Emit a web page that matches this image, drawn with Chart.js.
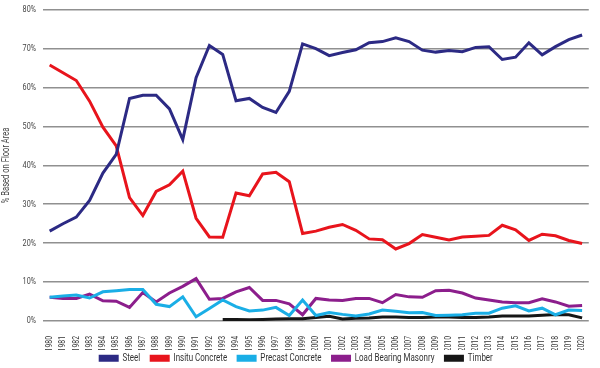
<!DOCTYPE html>
<html>
<head>
<meta charset="utf-8">
<script src="https://cdn.jsdelivr.net/npm/chart.js@4"></script>
<style>
  html, body { margin: 0; padding: 0; background: #fff; }
  #wrap { width: 600px; height: 368px; }
</style>
</head>
<body>
<div id="wrap"><canvas id="floorAreaChart"></canvas></div>
<script>
const years = [];
for (let y = 1980; y <= 2020; y++) years.push(String(y));

const steel = [23.1, 25, 26.7, 31, 38, 42.8, 57.2, 58, 58, 54.5, 46.6, 62.5, 70.8, 68.5, 56.6, 57.2, 54.9, 53.6, 59, 71.2,
  70, 68.2, 69, 69.7, 71.5, 71.8, 72.8, 71.8, 69.6, 69.1, 69.5, 69.2, 70.3, 70.5, 67.2, 67.8, 71.5, 68.4, 70.5, 72.3, 73.5];
const insitu = [65.8, 63.8, 61.8, 56.5, 49.8, 45, 31.7, 27.1, 33.3, 35, 38.5, 26.4, 21.6, 21.5, 32.9, 32.2, 37.8, 38.2, 35.8, 22.5,
  23.1, 24.1, 24.8, 23.3, 21.1, 20.9, 18.5, 19.9, 22.2, 21.5, 20.8, 21.6, 21.8, 22, 24.6, 23.4, 20.7, 22.3, 21.9, 20.7, 19.9];
const precast = [6.1, 6.4, 6.7, 5.9, 7.5, 7.8, 8.1, 8.1, 4.3, 3.7, 6.2, 1.1, 3.2, 5.4, 3.7, 2.6, 2.8, 3.5, 1.4, 5.4,
  1.4, 2.2, 1.7, 1.3, 1.8, 2.8, 2.5, 2.1, 2.2, 1.4, 1.5, 1.6, 2, 2, 3.3, 3.9, 2.6, 3.3, 1.6, 2.8, 2.7];
const masonry = [6.1, 5.8, 5.8, 6.9, 5.2, 5.1, 3.5, 7.3, 4.9, 7.2, 8.9, 10.9, 5.6, 5.8, 7.5, 8.6, 5.3, 5.3, 4.4, 1.6,
  5.8, 5.4, 5.3, 5.8, 5.8, 4.7, 6.8, 6.2, 6.1, 7.8, 7.9, 7.2, 5.9, 5.4, 4.9, 4.7, 4.7, 5.7, 4.9, 3.8, 4];
const timber = [null, null, null, null, null, null, null, null, null, null, null, null, null, 0.4, 0.4, 0.3, 0.4, 0.5, 0.6, 0.6,
  0.9, 1.2, 0.5, 0.7, 0.8, 1, 1, 0.9, 0.9, 1, 1, 0.9, 0.9, 1, 1.3, 1.3, 1.3, 1.5, 1.7, 1.6, 0.8];

const seriesNames = ["Steel", "Insitu Concrete", "Precast Concrete", "Load Bearing Masonry", "Timber"];
const seriesColors = ["#2c2a84", "#e8141c", "#1aaee6", "#8c1e8c", "#161616"];
const yTicks = [0, 10, 20, 30, 40, 50, 60, 70, 80];

const FONT = 'Roboto, "Liberation Sans", sans-serif';
// no condensed face installed, so squeeze the text horizontally
const SQUEEZE = 0.76;

// legend rows sit a little higher than Chart.js would put them
const liftLegend = {
  id: "liftLegend",
  afterLayout(chart) {
    chart.legend.top -= 8;
    chart.legend.height += 8;
  }
};

document.addEventListener("DOMContentLoaded", () => {
  const ctx = document.getElementById("floorAreaChart").getContext("2d");

  const nativeFill = ctx.fillText.bind(ctx);
  const nativeMeasure = ctx.measureText.bind(ctx);
  ctx.fillText = function (text, x, y) {
    ctx.save();
    ctx.translate(x, y);
    ctx.scale(SQUEEZE, 1);
    nativeFill(text, 0, 0);
    ctx.restore();
  };
  ctx.measureText = function (text) {
    const m = nativeMeasure(text);
    return {
      width: m.width * SQUEEZE,
      actualBoundingBoxAscent: m.actualBoundingBoxAscent,
      actualBoundingBoxDescent: m.actualBoundingBoxDescent,
      actualBoundingBoxLeft: m.actualBoundingBoxLeft * SQUEEZE,
      actualBoundingBoxRight: m.actualBoundingBoxRight * SQUEEZE
    };
  };

  const values = [steel, insitu, precast, masonry, timber];
  const datasets = seriesNames.map((name, i) => ({
    label: name,
    data: values[i],
    borderColor: seriesColors[i],
    backgroundColor: seriesColors[i],
    borderWidth: 3,
    pointRadius: 0,
    tension: 0,
    spanGaps: false
  }));

  new Chart(ctx, {
    type: "line",
    data: { labels: years, datasets: datasets },
    plugins: [liftLegend],
    options: {
      responsive: true,
      maintainAspectRatio: false,
      animation: false,
      layout: { padding: { top: 0, right: 7, left: 0, bottom: 0 } },
      plugins: {
        tooltip: { enabled: false },
        legend: {
          position: "bottom",
          maxHeight: 18,
          labels: {
            boxWidth: 17,
            boxHeight: 4,
            padding: 11,
            color: "#333",
            font: { family: FONT, size: 10.5 }
          }
        }
      },
      scales: {
        x: {
          offset: true,
          grid: { display: false },
          border: { display: false },
          afterFit: (axis) => { axis.height = 29; },
          ticks: {
            autoSkip: false,
            minRotation: 90,
            maxRotation: 90,
            padding: 7,
            color: "#333",
            font: { family: FONT, size: 9 }
          }
        },
        y: {
          min: 0,
          max: 80,
          afterBuildTicks: (axis) => { axis.ticks = yTicks.map(v => ({ value: v })); },
          afterFit: (axis) => { axis.width = 43; },
          grid: { color: "#909090", lineWidth: 1.6, tickLength: 3, tickColor: "transparent" },
          border: { display: false },
          ticks: {
            padding: 4,
            color: "#444",
            font: { family: FONT, size: 9.5 },
            callback: (v) => v + "%"
          },
          title: {
            display: true,
            text: "% Based on Floor Area",
            color: "#444",
            padding: { top: 0, bottom: 0 },
            font: { family: FONT, size: 10 }
          }
        }
      }
    }
  });
});
</script>
</body>
</html>
